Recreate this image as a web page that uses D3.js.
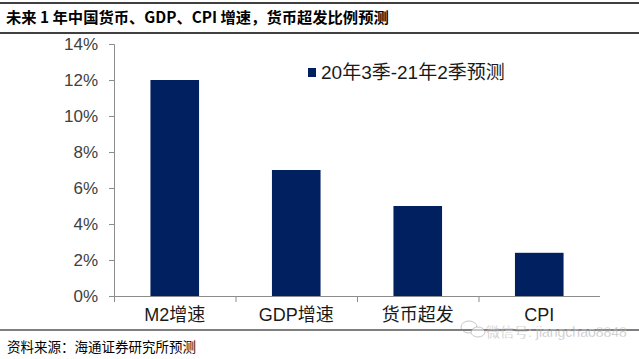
<!DOCTYPE html>
<html><head><meta charset="utf-8">
<script src="https://cdn.jsdelivr.net/npm/d3@7"></script>
<style>body{margin:0;background:#fff;}svg{display:block;}</style>
</head><body>
<svg id="c" width="639" height="359"></svg>
<script>
const categories = ["M2增速", "GDP增速", "货币超发", "CPI"];
const values = [12, 7, 5, 2.4];
const yTicks = [0, 2, 4, 6, 8, 10, 12, 14];
const seriesName = "20年3季-21年2季预测";
const title = "未来 1 年中国货币、GDP、CPI 增速，货币超发比例预测";
const source = "资料来源：海通证券研究所预测";
const watermark = "微信号: jiangchao8848";

const svg = d3.select("#c");
const cjk = "Arial, 'Liberation Sans', 'Noto Sans CJK SC', sans-serif";
const barColor = "#002060";
const axisColor = "#8c8c8c";

// header lines & title
svg.append("line").attr("x1",0).attr("x2",639).attr("y1",3).attr("y2",3).attr("stroke","#000").attr("stroke-width",1.5);
svg.append("line").attr("x1",0).attr("x2",639).attr("y1",33).attr("y2",33).attr("stroke","#000").attr("stroke-width",1.5);
svg.append("text").attr("x",6).attr("y",23).text(title)
  .attr("font-family","'Noto Sans CJK SC', sans-serif").attr("font-weight","bold").attr("font-size",15.3).attr("fill","#000");

const x = d3.scaleBand().domain(categories).range([114, 600]).paddingInner(0.6).paddingOuter(0.3);
const y = d3.scaleLinear().domain([0, 14]).range([296, 44]);

// bars
svg.selectAll("rect.bar").data(values).join("rect").attr("class","bar")
  .attr("x",(d,i)=>x(categories[i])).attr("width",x.bandwidth())
  .attr("y",d=>y(d)).attr("height",d=>y(0)-y(d)).attr("fill",barColor);

// y axis
const ya = svg.append("g").attr("transform","translate(114,0)")
  .call(d3.axisLeft(y).tickValues(yTicks).tickFormat(d=>d+"%").tickSize(5).tickPadding(11));
ya.select(".domain").attr("stroke",axisColor);
ya.selectAll(".tick line").attr("stroke",axisColor);
ya.selectAll("text").attr("font-family","Arial, 'Liberation Sans', sans-serif").attr("font-size",17).attr("fill","#404040");

// x axis
const bounds = d3.range(categories.length+1).map(i => 114 + i*(486/categories.length));
svg.append("line").attr("x1",114).attr("x2",600).attr("y1",296.5).attr("y2",296.5).attr("stroke",axisColor);
svg.selectAll("line.xt").data(bounds.slice(0,-1)).join("line").attr("class","xt")
  .attr("x1",d=>d+0.5).attr("x2",d=>d+0.5).attr("y1",296).attr("y2",302).attr("stroke",axisColor);
svg.selectAll("text.xl").data(categories).join("text").attr("class","xl")
  .attr("x",d=>x(d)+x.bandwidth()/2).attr("y",321).attr("text-anchor","middle")
  .attr("font-family",cjk).attr("font-size",18).attr("fill","#1a1a1a").text(d=>d);

// legend
svg.append("rect").attr("x",308).attr("y",68).attr("width",8).attr("height",9).attr("fill",barColor);
svg.append("text").attr("x",321).attr("y",79).text(seriesName)
  .attr("font-family",cjk).attr("font-size",19).attr("fill","#1a1a1a");

// bottom line & source
svg.append("line").attr("x1",0).attr("x2",639).attr("y1",330).attr("y2",330).attr("stroke","#000").attr("stroke-width",1.2);
svg.append("text").attr("x",7).attr("y",352).text(source)
  .attr("font-family","'Noto Sans CJK SC', sans-serif").attr("font-size",13.5).attr("fill","#000");

// watermark
const wm = svg.append("g").attr("opacity",0.55);
wm.append("ellipse").attr("cx",469).attr("cy",327).attr("rx",8).attr("ry",6).attr("fill","none").attr("stroke","#999");
wm.append("ellipse").attr("cx",478).attr("cy",332).attr("rx",7).attr("ry",5).attr("fill","#fff").attr("stroke","#999");
wm.append("text").attr("x",486).attr("y",337).text(watermark)
  .attr("font-family",cjk).attr("font-size",14).attr("fill","#888").attr("stroke","#fff").attr("stroke-width",0.3);
</script>
</body></html>
